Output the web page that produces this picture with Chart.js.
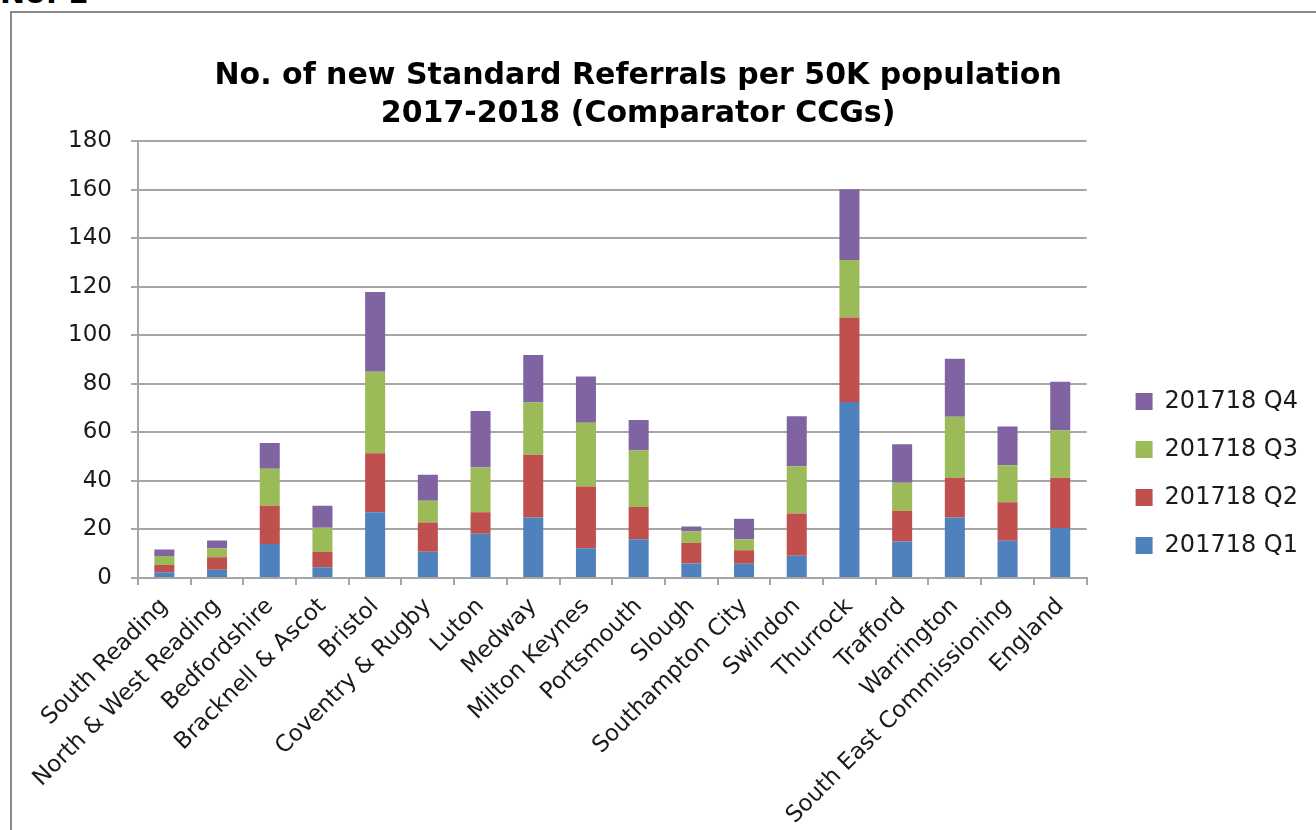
<!DOCTYPE html>
<html>
<head>
<meta charset="utf-8">
<script src="https://cdn.jsdelivr.net/npm/chart.js@4.4.1/dist/chart.umd.min.js"></script>
<style>
    html, body { margin: 0; padding: 0; background: #fff; overflow: hidden; }
    #page { position: relative; width: 1316px; height: 830px; overflow: hidden; }
    #docLabel { position: absolute; left: 0px; top: -25px; line-height: 32px; font: bold 30px "DejaVu Sans", sans-serif; color: #000; }
    #frame { position: absolute; left: 10px; top: 11px; width: 1400px; height: 900px; border-left: 2px solid #8a8a8a; border-top: 2px solid #8a8a8a; }
    #referralChart { position: absolute; left: 0; top: 0; }
</style>
</head>
<body>
<div id="page">
    <div id="docLabel">No. 1</div>
    <div id="frame"></div>
    <canvas id="referralChart" width="1316" height="830"></canvas>
</div>
<script>
const categories = ['South Reading', 'North & West Reading', 'Bedfordshire', 'Bracknell & Ascot', 'Bristol',
    'Coventry & Rugby', 'Luton', 'Medway', 'Milton Keynes', 'Portsmouth', 'Slough', 'Southampton City',
    'Swindon', 'Thurrock', 'Trafford', 'Warrington', 'South East Commissioning', 'England'];

// values (referrals per 50K population, each quarter)
const q1Values = [2.4, 3.4, 14.0, 4.4, 27.1, 10.8, 18.2, 24.9, 12.3, 16.0, 6.0, 5.9, 9.2, 72.5, 15.0, 24.9, 15.4, 20.6];
const q2Values = [3.0, 5.2, 15.8, 6.3, 24.3, 12.1, 8.9, 25.9, 25.4, 13.3, 8.5, 5.5, 17.4, 34.8, 12.7, 16.4, 15.8, 20.7];
const q3Values = [3.7, 3.7, 15.2, 10.0, 33.6, 8.9, 18.4, 21.5, 26.3, 23.2, 4.7, 4.6, 19.4, 23.7, 11.5, 25.2, 15.3, 19.5];
const q4Values = [2.6, 3.2, 10.6, 9.1, 32.9, 10.7, 23.3, 19.6, 19.0, 12.6, 2.0, 8.4, 20.7, 29.2, 15.9, 23.8, 15.9, 20.1];

const seriesNames = ['201718 Q1', '201718 Q2', '201718 Q3', '201718 Q4'];
const seriesColors = ['#4f81bd', '#c0504d', '#9bbb59', '#8064a2'];

const yTicks = [0, 20, 40, 60, 80, 100, 120, 140, 160, 180];

// trailing spaces nudge the centred title a little to the left, like the original
const titleLines = ['No. of new Standard Referrals per 50K population    ', '2017-2018 (Comparator CCGs)    '];

const gridGrey = '#a6a6a6';
const textColor = '#1a1a1a';

const allSeries = [q1Values, q2Values, q3Values, q4Values];
const datasets = allSeries.map((vals, i) => ({
    label: seriesNames[i],
    data: vals,
    backgroundColor: seriesColors[i],
    borderWidth: 0,
    categoryPercentage: 1.0,
    barPercentage: 0.38
}));

const ctx = document.getElementById('referralChart').getContext('2d');
const referralChart = new Chart(ctx, {
    type: 'bar',
    data: { labels: categories, datasets: datasets },
    options: {
        responsive: false,
        animation: false,
        layout: { padding: { left: 10, right: 8, top: 0, bottom: 0 } },
        plugins: {
            title: {
                display: true,
                text: titleLines,
                color: '#000',
                font: { family: 'DejaVu Sans', size: 30, weight: 'bold', lineHeight: 1.27 },
                padding: { top: 57, bottom: 8 }
            },
            legend: {
                position: 'right',
                reverse: true,
                title: {
                    display: true,
                    text: ' ',
                    font: { size: 10, lineHeight: 1 },
                    padding: { top: 0, bottom: 107 }
                },
                labels: {
                    color: textColor,
                    boxWidth: 17,
                    boxHeight: 17,
                    padding: 24,
                    font: { family: 'DejaVu Sans', size: 24 }
                }
            },
            tooltip: { enabled: false }
        },
        scales: {
            x: {
                stacked: true,
                grid: { drawOnChartArea: false, color: gridGrey, lineWidth: 2, tickLength: 7 },
                border: { color: gridGrey, width: 2 },
                ticks: {
                    color: textColor,
                    minRotation: 45,
                    maxRotation: 45,
                    autoSkip: false,
                    padding: 8,
                    font: { family: 'DejaVu Sans', size: 23 }
                },
                afterFit: scale => { scale.height = 252; }
            },
            y: {
                stacked: true,
                min: 0,
                max: 180,
                afterBuildTicks: scale => { scale.ticks = yTicks.map(v => ({ value: v })); },
                grid: { color: gridGrey, lineWidth: 2, tickLength: 7 },
                border: { color: gridGrey, width: 2 },
                ticks: {
                    color: textColor,
                    padding: 19,
                    font: { family: 'DejaVu Sans', size: 23 }
                },
                afterFit: scale => { scale.width = 128; }
            },
            // empty spacer axis: leaves the gap between the plot and the legend
            gap: {
                type: 'linear',
                position: 'right',
                grid: { display: false },
                border: { display: false },
                ticks: { display: false },
                afterFit: scale => { scale.width = 25; }
            }
        }
    }
});
</script>
</body>
</html>
